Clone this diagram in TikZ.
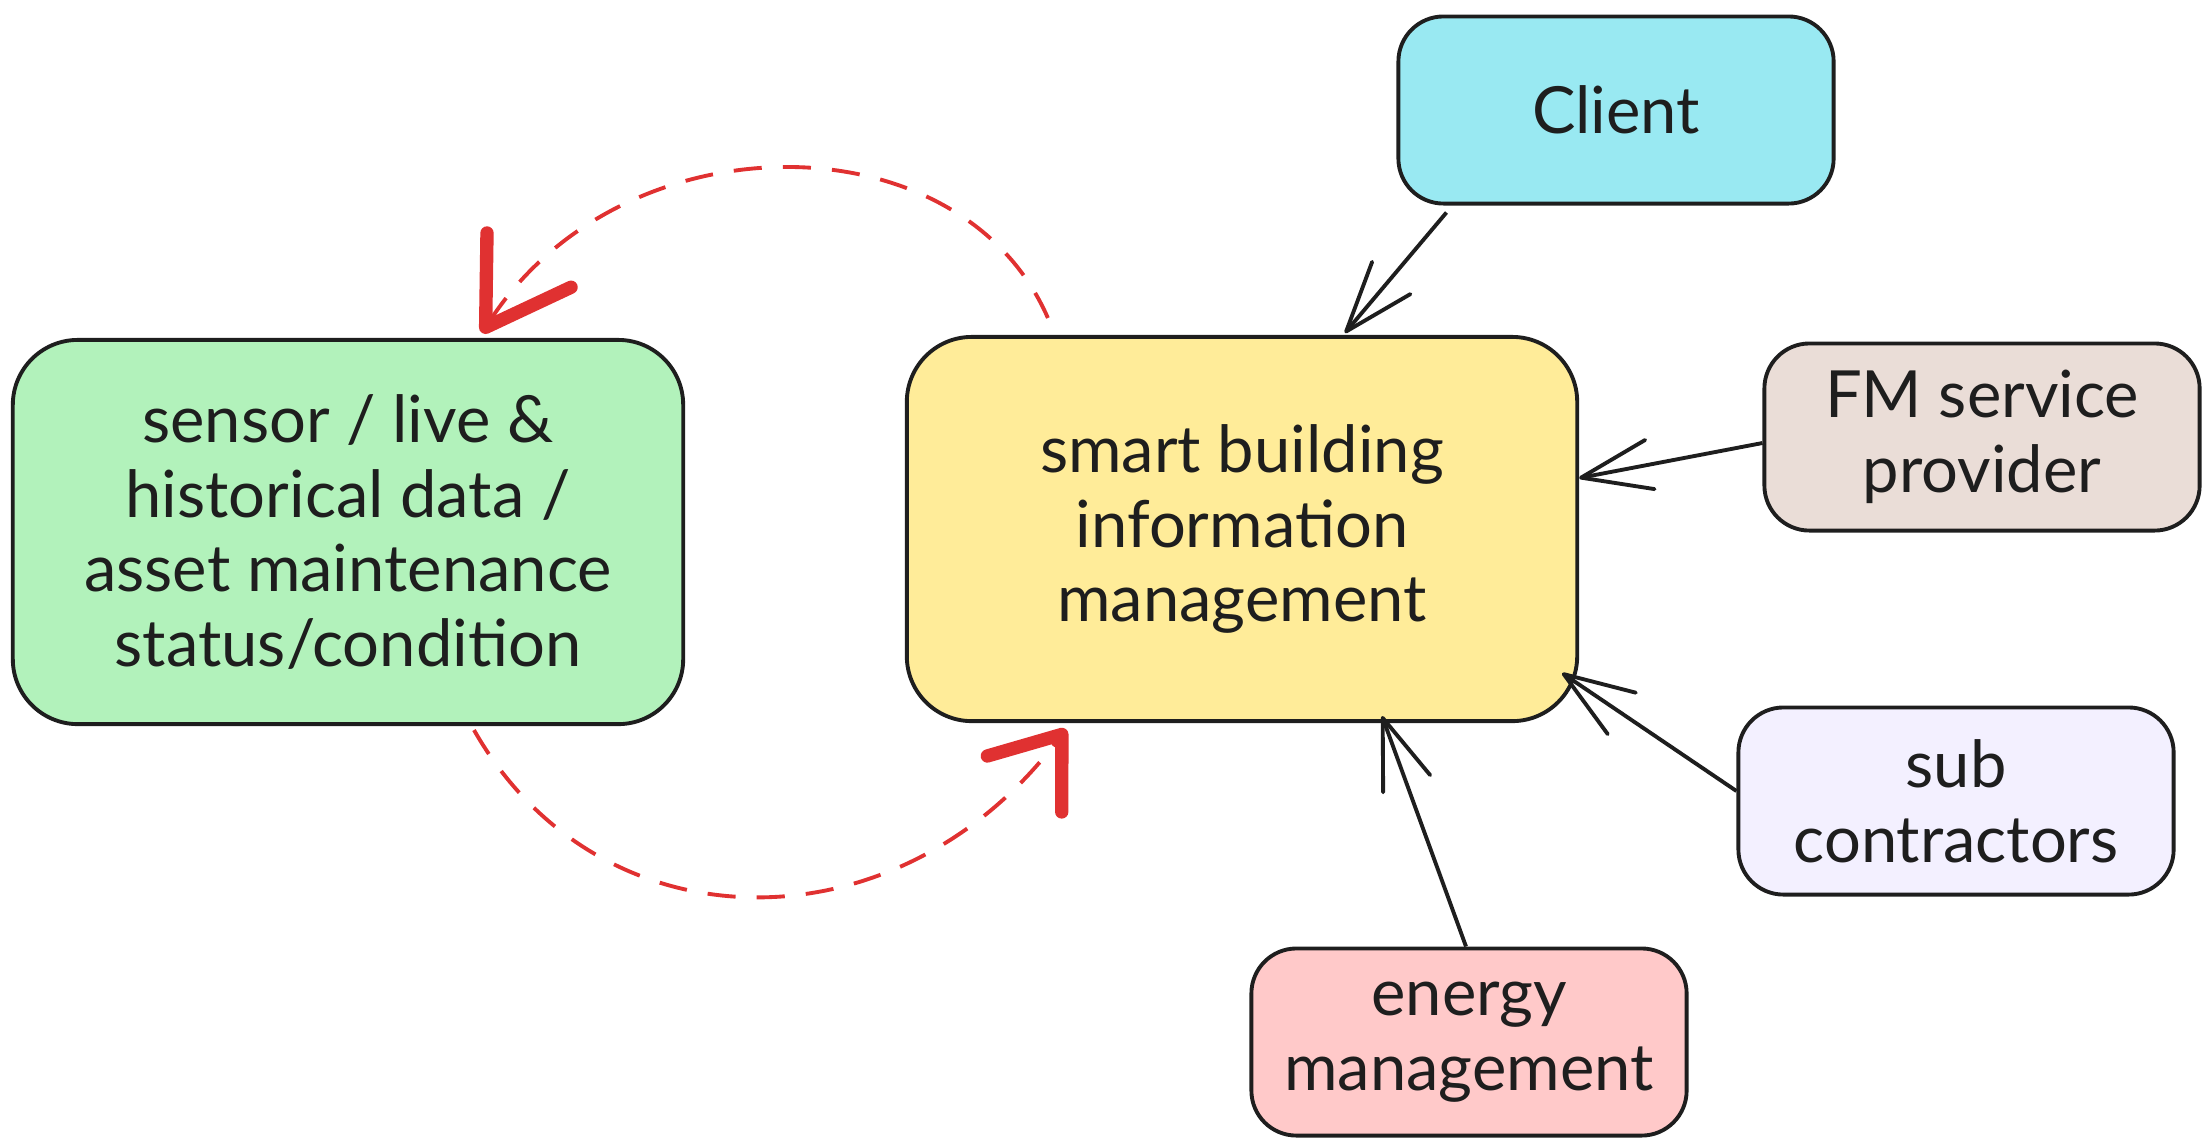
\documentclass[tikz,border=0pt]{standalone}
\usepackage{fontspec}
\setmainfont{Lato}
\usetikzlibrary{arrows.meta}
\definecolor{ink}{HTML}{1E1E1E}
\definecolor{redc}{HTML}{E03131}
\definecolor{greenf}{HTML}{B2F2BB}
\definecolor{yellowf}{HTML}{FFEC99}
\definecolor{cyanf}{HTML}{99E9F2}
\definecolor{fmf}{HTML}{EADDD7}
\definecolor{subf}{HTML}{F3F0FF}
\definecolor{energyf}{HTML}{FFC9C9}
\begin{document}
\begin{tikzpicture}[x=0.01cm,y=-0.01cm,
  box/.style={draw=ink, line width=1.1pt, align=center, text=ink,
    font=\fontsize{18.5}{21.3}\selectfont, inner sep=0pt},
  bigbox/.style={box, minimum width=6.7cm, minimum height=3.84cm, rounded corners=0.65cm},
  smallbox/.style={box, minimum width=4.35cm, minimum height=1.87cm, rounded corners=0.45cm},
  conn/.style={draw=ink, line width=1.1pt,
    -{Straight Barb[length=0.7cm,width=0.5cm,line width=1.1pt,round]}},
  loopline/.style={draw=redc, line width=1.1pt, dash pattern=on 8pt off 6pt}
]
\useasboundingbox (0,0) rectangle (2204,1138);

\node[bigbox, fill=greenf] (green) at (348,532)
  {sensor / live \&\\historical data /\\asset maintenance\\status/condition};
\node[bigbox, fill=yellowf] (sbim) at (1242,529)
  {smart building\\information\\management};
\node[smallbox, fill=cyanf] (client) at (1616,110) {Client};
\node[smallbox, fill=fmf] (fm) at (1982,437) {FM service\\provider};
\node[smallbox, fill=subf] (sub) at (1956,801) {sub\\contractors};
\node[smallbox, fill=energyf] (energy) at (1469,1042) {energy\\management};

% black connectors
\draw[conn] ([shift={(50,7)}]client.south west) -- ([shift={(440,-2)}]sbim.north west);
\draw[conn] ([shift={(0,6)}]fm.west) -- ([shift={(0,-51)}]sbim.east);
\draw[conn] ([shift={(0,-10)}]sub.west) -- ([shift={(-17,-50)}]sbim.south east);
\draw[conn] ([shift={(-3,0)}]energy.north) -- ([shift={(140,-7)}]sbim.south);

% red dashed loop
\draw[loopline, -{Straight Barb[length=0.8cm,width=1.0cm,line width=3.8pt,round]}]
  ([shift={(143,-17)}]sbim.north west) .. controls (960,116) and (622,116) ..
  ([shift={(134,-5)}]green.north);
\draw[loopline, -{Straight Barb[length=0.62cm,width=0.93cm,line width=3.8pt,round]}]
  ([shift={(126,4)}]green.south) .. controls (600,951) and (898,952) ..
  ([shift={(161,6)}]sbim.south west);
\end{tikzpicture}
\end{document}
